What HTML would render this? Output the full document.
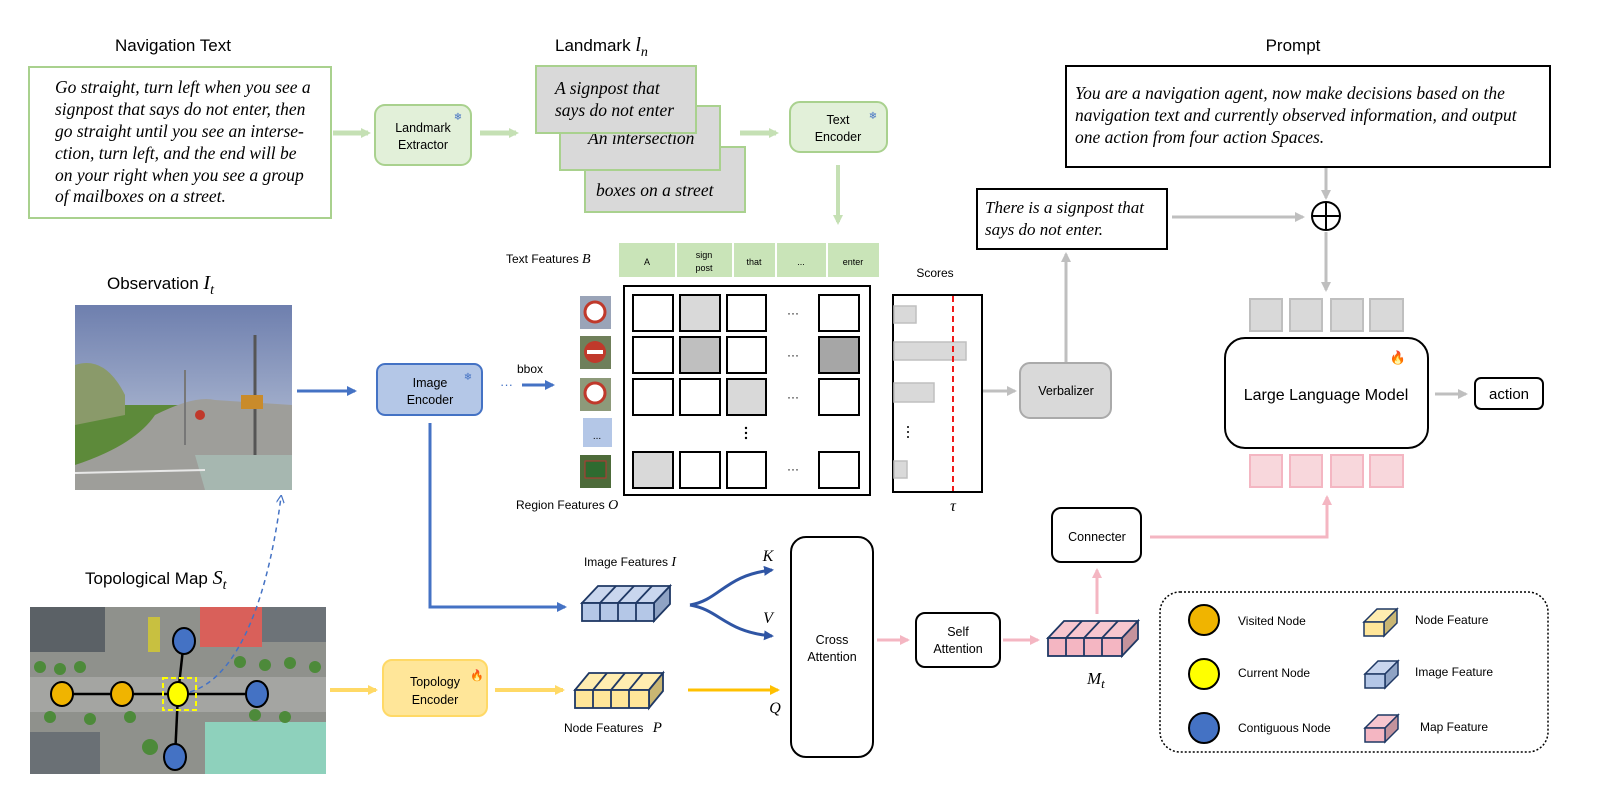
<!DOCTYPE html>
<html><head><meta charset="utf-8"><style>
html,body{margin:0;padding:0;background:#fff;}
svg{display:block;}
.s{font-family:"Liberation Sans",sans-serif;}
.i{font-family:"Liberation Serif",serif;font-style:italic;}
</style></head><body>
<svg width="1600" height="808" viewBox="0 0 1600 808" xmlns="http://www.w3.org/2000/svg">
<defs>
<marker id="ag" markerWidth="10" markerHeight="10" refX="7" refY="5" orient="auto" markerUnits="userSpaceOnUse"><path d="M0,0 L10,5 L0,10z" fill="#c5e0b4"/></marker>
<marker id="ab" markerWidth="10" markerHeight="10" refX="8" refY="5" orient="auto" markerUnits="userSpaceOnUse"><path d="M0,0 L10,5 L0,10z" fill="#4472c4"/></marker>
<marker id="ab2" markerWidth="10" markerHeight="10" refX="8" refY="5" orient="auto" markerUnits="userSpaceOnUse"><path d="M0,0 L10,5 L0,10z" fill="#2f55a4"/></marker>
<marker id="ay" markerWidth="10" markerHeight="10" refX="8" refY="5" orient="auto" markerUnits="userSpaceOnUse"><path d="M0,0 L10,5 L0,10z" fill="#ffd966"/></marker>
<marker id="ao" markerWidth="10" markerHeight="10" refX="8" refY="5" orient="auto" markerUnits="userSpaceOnUse"><path d="M0,0 L10,5 L0,10z" fill="#ffc000"/></marker>
<marker id="agr" markerWidth="10" markerHeight="10" refX="8" refY="5" orient="auto" markerUnits="userSpaceOnUse"><path d="M0,0 L10,5 L0,10z" fill="#bfbfbf"/></marker>
<marker id="ap" markerWidth="10" markerHeight="10" refX="8" refY="5" orient="auto" markerUnits="userSpaceOnUse"><path d="M0,0 L10,5 L0,10z" fill="#f4b6c2"/></marker>
<marker id="ad" markerWidth="8" markerHeight="8" refX="6" refY="4" orient="auto" markerUnits="userSpaceOnUse"><path d="M0,0 L8,4 L0,8" fill="none" stroke="#4472c4" stroke-width="1.2"/></marker>
<linearGradient id="sky" x1="0" y1="0" x2="0" y2="1"><stop offset="0" stop-color="#6e7fae"/><stop offset="1" stop-color="#c7d0e0"/></linearGradient>
</defs>

<text x="173" y="51" class="s" font-size="17" text-anchor="middle">Navigation Text</text>
<text x="555" y="51" class="s" font-size="17">Landmark <tspan class="i" font-size="20">l</tspan><tspan class="i" font-size="14" dy="5">n</tspan></text>
<text x="1293" y="51" class="s" font-size="17" text-anchor="middle">Prompt</text>

<rect x="29" y="67" width="302" height="151" fill="#fff" stroke="#a9d18e" stroke-width="2"/>
<g class="i" font-size="17.5" fill="#000">
<text x="55" y="93">Go straight, turn left when you see a</text>
<text x="55" y="115">signpost that says do not enter, then</text>
<text x="55" y="137">go straight until you see an interse-</text>
<text x="55" y="159">ction, turn left, and the end will be</text>
<text x="55" y="181">on your right when you see a group</text>
<text x="55" y="202">of mailboxes on a street.</text>
</g>

<line x1="333" y1="133" x2="368" y2="133" stroke="#c5e0b4" stroke-width="5" marker-end="url(#ag)"/>
<rect x="375" y="105" width="96" height="60" rx="10" fill="#e2f0d9" stroke="#a9d18e" stroke-width="2"/>
<text x="423" y="132" class="s" font-size="12.5" text-anchor="middle">Landmark</text>
<text x="423" y="149" class="s" font-size="12.5" text-anchor="middle">Extractor</text>
<text x="458" y="120" font-size="10" fill="#4472c4" text-anchor="middle">❄</text>
<line x1="480" y1="133" x2="516" y2="133" stroke="#c5e0b4" stroke-width="5" marker-end="url(#ag)"/>

<rect x="585" y="147" width="160" height="65" fill="#d9d9d9" stroke="#a9d18e" stroke-width="2"/>
<text x="596" y="196" class="i" font-size="17.5">boxes on a street</text>
<rect x="560" y="106" width="160" height="64" fill="#d9d9d9" stroke="#a9d18e" stroke-width="2"/>
<text x="588" y="144" class="i" font-size="17.5">An intersection</text>
<rect x="536" y="66" width="160" height="67" fill="#d9d9d9" stroke="#a9d18e" stroke-width="2"/>
<text x="555" y="94" class="i" font-size="17.5">A signpost that</text>
<text x="555" y="116" class="i" font-size="17.5">says do not enter</text>

<line x1="740" y1="133" x2="776" y2="133" stroke="#c5e0b4" stroke-width="5" marker-end="url(#ag)"/>
<rect x="790" y="102" width="97" height="50" rx="10" fill="#e2f0d9" stroke="#a9d18e" stroke-width="2"/>
<text x="838" y="124" class="s" font-size="12.5" text-anchor="middle">Text</text>
<text x="838" y="141" class="s" font-size="12.5" text-anchor="middle">Encoder</text>
<text x="873" y="119" font-size="10" fill="#4472c4" text-anchor="middle">❄</text>
<line x1="838" y1="165" x2="838" y2="222" stroke="#c5e0b4" stroke-width="4" marker-end="url(#ag)"/>

<text x="506" y="263" class="s" font-size="12">Text Features <tspan class="i" font-size="14">B</tspan></text>
<g fill="#c9e4b8">
<rect x="619" y="243" width="56" height="34"/><rect x="677" y="243" width="55" height="34"/><rect x="734" y="243" width="41" height="34"/><rect x="777" y="243" width="49" height="34"/><rect x="828" y="243" width="51" height="34"/>
</g>
<g class="s" font-size="9" text-anchor="middle">
<text x="647" y="265">A</text><text x="704" y="258">sign</text><text x="704" y="271">post</text><text x="754" y="265">that</text><text x="801" y="265">...</text><text x="853" y="265">enter</text>
</g>

<rect x="624" y="286" width="246" height="209" fill="#fff" stroke="#000" stroke-width="2"/>
<g stroke="#000" stroke-width="2" fill="#fff">
<rect x="633" y="295" width="40" height="36"/><rect x="680" y="295" width="40" height="36" fill="#d9d9d9"/><rect x="727" y="295" width="39" height="36"/><rect x="819" y="295" width="40" height="36"/>
<rect x="633" y="337" width="40" height="36"/><rect x="680" y="337" width="40" height="36" fill="#bfbfbf"/><rect x="727" y="337" width="39" height="36"/><rect x="819" y="337" width="40" height="36" fill="#a6a6a6"/>
<rect x="633" y="379" width="40" height="36"/><rect x="680" y="379" width="40" height="36"/><rect x="727" y="379" width="39" height="36" fill="#d9d9d9"/><rect x="819" y="379" width="40" height="36"/>
<rect x="633" y="452" width="40" height="36" fill="#d9d9d9"/><rect x="680" y="452" width="40" height="36"/><rect x="727" y="452" width="39" height="36"/><rect x="819" y="452" width="40" height="36"/>
</g>
<g class="s" font-size="12" text-anchor="middle">
<text x="793" y="317">···</text><text x="793" y="359">···</text><text x="793" y="401">···</text><text x="793" y="473">···</text>
</g>
<g fill="#000"><circle cx="746" cy="428" r="1.2"/><circle cx="746" cy="433" r="1.2"/><circle cx="746" cy="438" r="1.2"/></g>

<rect x="580" y="296" width="31" height="33" fill="#9aa4b8"/><circle cx="595" cy="312" r="10" fill="#fff" stroke="#c0392b" stroke-width="3"/>
<rect x="580" y="336" width="31" height="33" fill="#6f7f5a"/><circle cx="595" cy="352" r="11" fill="#c0392b"/><rect x="587" y="350" width="16" height="4" fill="#fff"/>
<rect x="580" y="378" width="31" height="33" fill="#8d9a7a"/><circle cx="595" cy="393" r="10" fill="#fff" stroke="#c0392b" stroke-width="3"/>
<rect x="583" y="418" width="29" height="29" fill="#b4c7e7"/><text x="597" y="439" class="s" font-size="10" text-anchor="middle">...</text>
<rect x="580" y="455" width="31" height="33" fill="#4d6b3a"/><rect x="585" y="461" width="21" height="17" fill="#2e6b30" stroke="#b33" stroke-width="1"/>

<text x="517" y="373" class="s" font-size="12">bbox</text>
<text x="500" y="389" class="s" font-size="13" fill="#4472c4">···</text>
<line x1="522" y1="385" x2="553" y2="385" stroke="#4472c4" stroke-width="3" marker-end="url(#ab)"/>
<text x="516" y="509" class="s" font-size="12">Region Features <tspan class="i" font-size="14">O</tspan></text>

<text x="935" y="277" class="s" font-size="12" text-anchor="middle">Scores</text>
<rect x="893" y="295" width="89" height="197" fill="#fff" stroke="#000" stroke-width="2"/>
<g fill="#d9d9d9" stroke="#bfbfbf" stroke-width="1.5">
<rect x="894" y="306" width="22" height="17"/><rect x="894" y="342" width="72" height="18"/><rect x="894" y="383" width="40" height="19"/><rect x="894" y="461" width="13" height="17"/>
</g>
<g fill="#000"><circle cx="908" cy="427" r="1"/><circle cx="908" cy="432" r="1"/><circle cx="908" cy="437" r="1"/></g>
<line x1="953" y1="296" x2="953" y2="491" stroke="#e00" stroke-width="1.8" stroke-dasharray="6,4"/>
<text x="953" y="511" class="i" font-size="16" text-anchor="middle">τ</text>

<line x1="983" y1="391" x2="1015" y2="391" stroke="#bfbfbf" stroke-width="3" marker-end="url(#agr)"/>
<rect x="1020" y="363" width="91" height="55" rx="10" fill="#d9d9d9" stroke="#aaa" stroke-width="2"/>
<text x="1066" y="395" class="s" font-size="12.5" text-anchor="middle">Verbalizer</text>
<line x1="1066" y1="362" x2="1066" y2="254" stroke="#bfbfbf" stroke-width="3" marker-end="url(#agr)"/>

<rect x="977" y="189" width="190" height="60" fill="#fff" stroke="#000" stroke-width="2"/>
<text x="985" y="213" class="i" font-size="17">There is a signpost that</text>
<text x="985" y="235" class="i" font-size="17">says do not enter.</text>
<line x1="1172" y1="217" x2="1303" y2="217" stroke="#bfbfbf" stroke-width="3" marker-end="url(#agr)"/>

<rect x="1066" y="66" width="484" height="101" fill="#fff" stroke="#000" stroke-width="2"/>
<g class="i" font-size="17.5">
<text x="1075" y="99">You are a navigation agent, now make decisions based on the</text>
<text x="1075" y="121">navigation text and currently observed information, and output</text>
<text x="1075" y="143">one action from four action Spaces.</text>
</g>
<line x1="1326" y1="168" x2="1326" y2="198" stroke="#bfbfbf" stroke-width="3" marker-end="url(#agr)"/>
<circle cx="1326" cy="216" r="14" fill="#fff" stroke="#000" stroke-width="2"/>
<line x1="1312" y1="216" x2="1340" y2="216" stroke="#000" stroke-width="2"/><line x1="1326" y1="202" x2="1326" y2="230" stroke="#000" stroke-width="2"/>
<line x1="1326" y1="232" x2="1326" y2="290" stroke="#bfbfbf" stroke-width="3" marker-end="url(#agr)"/>

<g fill="#d9d9d9" stroke="#bfbfbf" stroke-width="2">
<rect x="1250" y="299" width="32" height="32"/><rect x="1290" y="299" width="32" height="32"/><rect x="1331" y="299" width="32" height="32"/><rect x="1370" y="299" width="33" height="32"/>
</g>
<rect x="1225" y="338" width="203" height="110" rx="20" fill="#fff" stroke="#000" stroke-width="2"/>
<text x="1326" y="400" class="s" font-size="16" text-anchor="middle">Large Language Model</text>
<text x="1398" y="362" font-size="13" fill="#f25c1a" text-anchor="middle">🔥</text>
<g fill="#f8d7dc" stroke="#f4b6c2" stroke-width="2">
<rect x="1250" y="455" width="32" height="32"/><rect x="1290" y="455" width="32" height="32"/><rect x="1331" y="455" width="32" height="32"/><rect x="1370" y="455" width="33" height="32"/>
</g>
<line x1="1435" y1="394" x2="1466" y2="394" stroke="#bfbfbf" stroke-width="3" marker-end="url(#agr)"/>
<rect x="1475" y="378" width="68" height="31" rx="6" fill="#fff" stroke="#000" stroke-width="2"/>
<text x="1509" y="399" class="s" font-size="15" text-anchor="middle">action</text>

<rect x="1052" y="508" width="89" height="54" rx="9" fill="#fff" stroke="#000" stroke-width="2"/>
<text x="1097" y="541" class="s" font-size="12.5" text-anchor="middle">Connecter</text>
<polyline points="1150,537 1327,537 1327,497" fill="none" stroke="#f4b6c2" stroke-width="3" marker-end="url(#ap)"/>
<line x1="1097" y1="614" x2="1097" y2="570" stroke="#f4b6c2" stroke-width="3" marker-end="url(#ap)"/>

<text x="107" y="289" class="s" font-size="17">Observation <tspan class="i" font-size="20">I</tspan><tspan class="i" font-size="14" dy="5">t</tspan></text>
<svg x="75" y="305" width="217" height="185" viewBox="0 0 217 185">
<rect width="217" height="185" fill="url(#sky)"/>
<rect y="100" width="217" height="85" fill="#5d8a3a"/>
<path d="M0,60 Q30,50 50,90 L50,110 L0,120z" fill="#8a9a6a"/>
<path d="M80,110 Q120,90 140,95 L217,100 L217,185 L0,185 L0,160 Q60,140 80,110z" fill="#9e9e9a"/>
<path d="M120,150 L217,150 L217,185 L130,185z" fill="#a6b7b0"/>
<line x1="0" y1="168" x2="130" y2="165" stroke="#e8e8e8" stroke-width="2"/>
<line x1="180" y1="30" x2="180" y2="150" stroke="#555" stroke-width="3"/>
<line x1="110" y1="65" x2="110" y2="140" stroke="#777" stroke-width="2"/>
<rect x="166" y="90" width="22" height="14" fill="#c98b2b"/>
<circle cx="125" cy="110" r="5" fill="#c0392b"/>
</svg>
<line x1="297" y1="391" x2="355" y2="391" stroke="#4472c4" stroke-width="3" marker-end="url(#ab)"/>
<rect x="377" y="364" width="105" height="51" rx="8" fill="#b4c7e7" stroke="#4472c4" stroke-width="2"/>
<text x="430" y="387" class="s" font-size="12.5" text-anchor="middle">Image</text>
<text x="430" y="404" class="s" font-size="12.5" text-anchor="middle">Encoder</text>
<text x="468" y="380" font-size="10" fill="#4472c4" text-anchor="middle">❄</text>
<polyline points="430,423 430,607 565,607" fill="none" stroke="#4472c4" stroke-width="3" marker-end="url(#ab)"/>

<text x="630" y="566" class="s" font-size="12" text-anchor="middle">Image Features <tspan class="i" font-size="14">I</tspan></text>
<g stroke="#1f3864" stroke-width="1.8">
<polygon points="582,603 598,586 670,586 654,603" fill="#c9d6ee"/>
<polygon points="654,603 670,586 670,604 654,621" fill="#8fa3c4"/>
<rect x="582" y="603" width="72" height="18" fill="#b4c7e7"/>
<path d="M600,603v18M618,603v18M636,603v18M600,603l16,-17M618,603l16,-17M636,603l16,-17" fill="none"/>
</g>
<path d="M690,605 C720,600 725,575 772,570" fill="none" stroke="#2f55a4" stroke-width="3" marker-end="url(#ab2)"/>
<path d="M690,605 C720,610 725,632 772,636" fill="none" stroke="#2f55a4" stroke-width="3" marker-end="url(#ab2)"/>
<text x="768" y="561" class="i" font-size="16" text-anchor="middle">K</text>
<text x="768" y="623" class="i" font-size="16" text-anchor="middle">V</text>

<rect x="791" y="537" width="82" height="220" rx="15" fill="#fff" stroke="#000" stroke-width="2"/>
<text x="832" y="644" class="s" font-size="12.5" text-anchor="middle">Cross</text>
<text x="832" y="661" class="s" font-size="12.5" text-anchor="middle">Attention</text>
<line x1="877" y1="640" x2="908" y2="640" stroke="#f4b6c2" stroke-width="3" marker-end="url(#ap)"/>
<rect x="916" y="613" width="84" height="54" rx="9" fill="#fff" stroke="#000" stroke-width="2"/>
<text x="958" y="636" class="s" font-size="12.5" text-anchor="middle">Self</text>
<text x="958" y="653" class="s" font-size="12.5" text-anchor="middle">Attention</text>
<line x1="1003" y1="640" x2="1038" y2="640" stroke="#f4b6c2" stroke-width="3" marker-end="url(#ap)"/>

<g stroke="#1f3864" stroke-width="1.8">
<polygon points="1048,638 1064,621 1138,621 1122,638" fill="#f7c6cf"/>
<polygon points="1122,638 1138,621 1138,639 1122,656" fill="#c4939c"/>
<rect x="1048" y="638" width="74" height="18" fill="#f4b6c2"/>
<path d="M1066,638v18M1084,638v18M1102,638v18M1066,638l16,-17M1084,638l16,-17M1102,638l16,-17" fill="none"/>
</g>
<text x="1087" y="684" class="i" font-size="17">M<tspan font-size="13" dy="4">t</tspan></text>

<text x="85" y="584" class="s" font-size="17">Topological Map <tspan class="i" font-size="20">S</tspan><tspan class="i" font-size="14" dy="5">t</tspan></text>
<svg x="30" y="607" width="296" height="167" viewBox="0 0 296 167">
<rect width="296" height="167" fill="#8f918c"/>
<rect x="0" y="0" width="75" height="45" fill="#5b6166"/>
<rect x="170" y="0" width="62" height="40" fill="#d9605a"/>
<rect x="232" y="0" width="64" height="35" fill="#6d7378"/>
<rect x="0" y="125" width="70" height="42" fill="#6a7075"/>
<rect x="175" y="115" width="121" height="52" fill="#8ed1bc"/>
<rect x="0" y="70" width="296" height="35" fill="#a4a5a2"/>
<g fill="#4d8a3a"><circle cx="10" cy="60" r="6"/><circle cx="30" cy="62" r="6"/><circle cx="50" cy="60" r="6"/><circle cx="210" cy="55" r="6"/><circle cx="235" cy="58" r="6"/><circle cx="260" cy="56" r="6"/><circle cx="285" cy="60" r="6"/><circle cx="20" cy="110" r="6"/><circle cx="60" cy="112" r="6"/><circle cx="100" cy="110" r="6"/><circle cx="225" cy="108" r="6"/><circle cx="255" cy="110" r="6"/><circle cx="120" cy="140" r="8"/></g>
<rect x="118" y="10" width="12" height="35" fill="#c8c040"/>
</svg>
<g stroke="#000" stroke-width="2.5">
<line x1="62" y1="694" x2="257" y2="694"/><line x1="184" y1="640" x2="178" y2="694"/><line x1="178" y1="694" x2="175" y2="757"/>
</g>
<g stroke="#000" stroke-width="2">
<ellipse cx="62" cy="694" rx="11" ry="12" fill="#f0b400"/>
<ellipse cx="122" cy="694" rx="11" ry="12" fill="#f0b400"/>
<ellipse cx="257" cy="694" rx="11" ry="13" fill="#4472c4"/>
<ellipse cx="184" cy="641" rx="11" ry="13" fill="#4472c4"/>
<ellipse cx="175" cy="757" rx="11" ry="13" fill="#4472c4"/>
<ellipse cx="178" cy="694" rx="10" ry="12" fill="#ffff00"/>
</g>
<rect x="163" y="678" width="33" height="32" fill="none" stroke="#ffff00" stroke-width="2" stroke-dasharray="5,3"/>
<path d="M190,692 C230,680 265,620 281,497" fill="none" stroke="#4472c4" stroke-width="1.5" stroke-dasharray="5,4" marker-end="url(#ad)"/>

<line x1="330" y1="690" x2="376" y2="690" stroke="#ffd966" stroke-width="4" marker-end="url(#ay)"/>
<rect x="383" y="660" width="104" height="56" rx="9" fill="#ffe699" stroke="#ffd966" stroke-width="2"/>
<text x="435" y="686" class="s" font-size="12.5" text-anchor="middle">Topology</text>
<text x="435" y="704" class="s" font-size="12.5" text-anchor="middle">Encoder</text>
<text x="477" y="679" font-size="11" fill="#f25c1a" text-anchor="middle">🔥</text>
<line x1="495" y1="690" x2="563" y2="690" stroke="#ffd966" stroke-width="4" marker-end="url(#ay)"/>

<g stroke="#1f3864" stroke-width="1.8">
<polygon points="575,690 589,673 663,673 649,690" fill="#ffedb0"/>
<polygon points="649,690 663,673 663,691 649,708" fill="#c9b673"/>
<rect x="575" y="690" width="74" height="18" fill="#ffe699"/>
<path d="M593,690v18M611,690v18M629,690v18M593,690l14,-17M611,690l14,-17M629,690l14,-17" fill="none"/>
</g>
<text x="564" y="732" class="s" font-size="12">Node Features <tspan class="i" font-size="15" dx="6">P</tspan></text>
<line x1="688" y1="690" x2="778" y2="690" stroke="#ffc000" stroke-width="3" marker-end="url(#ao)"/>
<text x="775" y="713" class="i" font-size="16" text-anchor="middle">Q</text>

<rect x="1160" y="592" width="388" height="160" rx="20" fill="none" stroke="#000" stroke-width="1.5" stroke-dasharray="2,2"/>
<g stroke="#000" stroke-width="2">
<circle cx="1204" cy="620" r="15" fill="#f0b400"/>
<circle cx="1204" cy="674" r="15" fill="#ffff00"/>
<circle cx="1204" cy="728" r="15" fill="#4472c4"/>
</g>
<g class="s" font-size="12">
<text x="1238" y="625">Visited Node</text>
<text x="1238" y="677">Current Node</text>
<text x="1238" y="732">Contiguous Node</text>
<text x="1415" y="624">Node Feature</text>
<text x="1415" y="676">Image Feature</text>
<text x="1420" y="731">Map Feature</text>
</g>
<g stroke="#1f3864" stroke-width="1.5">
<polygon points="1364,622 1377,609 1397,609 1384,622" fill="#ffedb0"/><polygon points="1384,622 1397,609 1397,623 1384,636" fill="#c9b673"/><rect x="1364" y="622" width="20" height="14" fill="#ffe699"/>
<polygon points="1365,674 1378,661 1398,661 1385,674" fill="#c9d6ee"/><polygon points="1385,674 1398,661 1398,675 1385,688" fill="#8fa3c4"/><rect x="1365" y="674" width="20" height="14" fill="#b4c7e7"/>
<polygon points="1365,728 1378,715 1398,715 1385,728" fill="#f7c6cf"/><polygon points="1385,728 1398,715 1398,729 1385,742" fill="#c4939c"/><rect x="1365" y="728" width="20" height="14" fill="#f4b6c2"/>
</g>
</svg>
</body></html>
